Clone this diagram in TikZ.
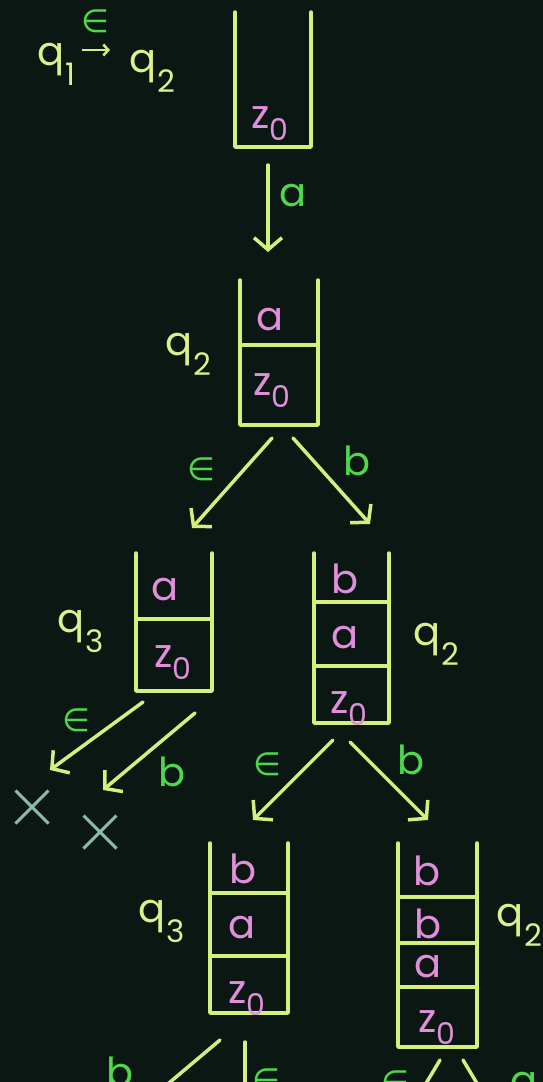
\documentclass[tikz,border=0pt]{standalone}
\usepackage{fontspec}
\setmainfont{Poppins}
\newfontfamily\symfont{DejaVu Sans}
\usetikzlibrary{arrows.meta,shapes.misc}

\definecolor{board}{HTML}{0B1713}
\definecolor{chalk}{HTML}{D5EE7C}
\definecolor{pinkc}{HTML}{E08FDA}
\definecolor{greenc}{HTML}{4FD84C}
\definecolor{statec}{HTML}{DDF08A}
\definecolor{crossc}{HTML}{8DBBAA}
\newcommand{\st}[2]{#1\kern1pt\raisebox{-0.5em}{\fontsize{31}{31}\selectfont #2}}
\newcommand{\zz}{z\raisebox{-0.3em}{\fontsize{30}{30}\selectfont 0}}
\newcommand{\eps}{{\symfont\fontsize{32}{32}\selectfont ∈}}

\begin{document}
\begin{tikzpicture}[x=1pt, y=-1pt,
  wall/.style={draw=chalk, line width=3.5pt, line join=round, line cap=round},
  frame/.style={inner sep=0pt, outer sep=0pt},
  sym/.style={text=pinkc, font=\fontsize{40}{40}\selectfont, inner sep=0pt, anchor=base},
  state/.style={text=statec, font=\fontsize{40}{40}\selectfont, inner sep=0pt, anchor=base},
  lab/.style={text=greenc, font=\fontsize{40}{40}\selectfont, inner sep=0pt},
  arrow/.style={draw=chalk, line width=3.5pt, line cap=round, -{Straight Barb[length=12pt, width=28pt]}},
  dead/.style={cross out, draw=crossc, line width=3pt, minimum size=30pt, inner sep=0pt},
]
\useasboundingbox (0,0) rectangle (543,1082);
\clip (0,0) rectangle (543,1082);
\fill[board] (0,0) rectangle (543,1082);

% === Header: q1 --eps--> q2 ===
\node[state] (q1) at (56,65) {\st{q}{1}};
\node[state] (q2h) at (152,72) {\st{q}{2}};
\coordinate (hs) at (82,50);
\coordinate (ht) at (110,50);
\draw[draw=chalk, line width=2.5pt, -{Straight Barb[length=5pt, width=11pt]}] (hs) -- (ht);
\node[lab] (heps) at (95,21) {\eps};

% === Stack 1 ===
\node[frame, minimum width=76pt, minimum height=135pt] (st1) at (273,79.5) {};
\draw[wall] (st1.north west) -- (st1.south west) -- (st1.south east) -- (st1.north east);
\node[sym] (c1z) at (270,128) {\zz};

\coordinate (a1s) at (268,165);
\coordinate (a1t) at (268,252);
\draw[arrow] (a1s) -- (a1t);
\node[lab] (l1) at (293,196) {a};

% === Stack 2 (q2) ===
\node[frame, minimum width=78pt, minimum height=145pt] (st2) at (279,352.5) {};
\draw[wall] (st2.north west) -- (st2.south west) -- (st2.south east) -- (st2.north east);
\draw[wall] (st2.west |- 0,345) -- (st2.east |- 0,345);
\node[sym] (c2a) at (270,330) {a};
\node[sym] (c2z) at (272,395) {\zz};
\node[state] (q2a) at (188,355) {\st{q}{2}};

\coordinate (a2s) at (272,438);
\coordinate (a2t) at (192,528);
\coordinate (a3s) at (293,438);
\coordinate (a3t) at (370,524);
\draw[arrow] (a2s) -- (a2t);
\draw[arrow] (a3s) -- (a3t);
\node[lab] (l2) at (201,469) {\eps};
\node[lab] (l3) at (357,461) {b};

% === Stack 3 (q3) ===
\node[frame, minimum width=76pt, minimum height=138pt] (st3) at (174,622) {};
\draw[wall] (st3.north west) -- (st3.south west) -- (st3.south east) -- (st3.north east);
\draw[wall] (st3.west |- 0,619) -- (st3.east |- 0,619);
\node[sym] (c3a) at (165,600) {a};
\node[sym] (c3z) at (173,667) {\zz};
\node[state] (q3a) at (81,632) {\st{q}{3}};

\coordinate (a4s) at (143,702);
\coordinate (a4t) at (50,770);
\coordinate (a5s) at (195,713);
\coordinate (a5t) at (103,790);
\draw[arrow] (a4s) -- (a4t);
\draw[arrow] (a5s) -- (a5t);
\node[lab] (l4) at (76,720) {\eps};
\node[lab] (l5) at (172,772) {b};
\node[dead] (x1) at (32,807) {};
\node[dead] (x2) at (100,832) {};

% === Stack 4 (q2) ===
\node[frame, minimum width=75pt, minimum height=170pt] (st4) at (351.5,638) {};
\draw[wall] (st4.north west) -- (st4.south west) -- (st4.south east) -- (st4.north east);
\draw[wall] (st4.west |- 0,602) -- (st4.east |- 0,602);
\draw[wall] (st4.west |- 0,666) -- (st4.east |- 0,666);
\node[sym] (c4b) at (345,593) {b};
\node[sym] (c4a) at (345,648) {a};
\node[sym] (c4z) at (349,713) {\zz};
\node[state] (q2b) at (436,645) {\st{q}{2}};

\coordinate (a6s) at (333,740);
\coordinate (a6t) at (253,820);
\coordinate (a7s) at (350,742);
\coordinate (a7t) at (428,820);
\draw[arrow] (a6s) -- (a6t);
\draw[arrow] (a7s) -- (a7t);
\node[lab] (l6) at (267,764) {\eps};
\node[lab] (l7) at (411,760) {b};

% === Stack 5 (q3) ===
\node[frame, minimum width=78pt, minimum height=170pt] (st5) at (249,928) {};
\draw[wall] (st5.north west) -- (st5.south west) -- (st5.south east) -- (st5.north east);
\draw[wall] (st5.west |- 0,893) -- (st5.east |- 0,893);
\draw[wall] (st5.west |- 0,956) -- (st5.east |- 0,956);
\node[sym] (c5b) at (243,883) {b};
\node[sym] (c5a) at (242,938) {a};
\node[sym] (c5z) at (247,1003) {\zz};
\node[state] (q3b) at (162,922) {\st{q}{3}};

\coordinate (a8s) at (220,1040);
\coordinate (a8t) at (150,1099);
\coordinate (a9s) at (245,1042);
\coordinate (a9t) at (245,1110);
\draw[wall] (a8s) -- (a8t);
\draw[wall] (a9s) -- (a9t);
\node[lab] (l8) at (120,1072) {b};
\node[lab] (l9) at (266,1080) {\eps};

% === Stack 6 (q2) ===
\node[frame, minimum width=79pt, minimum height=204pt] (st6) at (437.5,945) {};
\draw[wall] (st6.north west) -- (st6.south west) -- (st6.south east) -- (st6.north east);
\draw[wall] (st6.west |- 0,897) -- (st6.east |- 0,897);
\draw[wall] (st6.west |- 0,943) -- (st6.east |- 0,943);
\draw[wall] (st6.west |- 0,987) -- (st6.east |- 0,987);
\node[sym] (c6b) at (427,885) {b};
\node[sym] (c6c) at (428,938) {b};
\node[sym] (c6a) at (428,977) {a};
\node[sym] (c6z) at (437,1032) {\zz};
\node[state] (q2c) at (519,926) {\st{q}{2}};

\coordinate (a10s) at (440,1060);
\coordinate (a10t) at (416,1100);
\coordinate (a11s) at (463,1060);
\coordinate (a11t) at (487,1100);
\draw[wall] (a10s) -- (a10t);
\draw[wall] (a11s) -- (a11t);
\node[lab] (l10) at (395,1082) {\eps};
\node[lab] (l11) at (524,1084) {a};

\end{tikzpicture}
\end{document}
